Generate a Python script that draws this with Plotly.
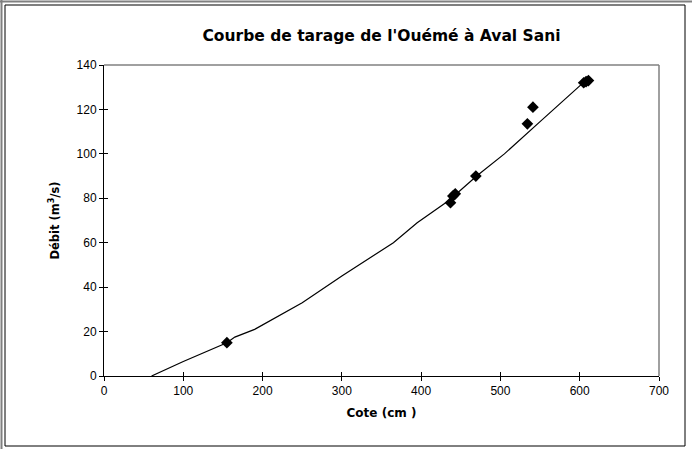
import plotly.graph_objects as go

# Jaugeages (mesures)
cote_mesures = [155, 437, 440, 443, 469, 534, 541, 605, 608, 611]
debit_mesures = [15, 78, 81, 82, 90, 113.5, 121, 132, 132.5, 133]

# Courbe de tarage ajustée
cote_courbe = [60, 100, 155, 165, 190, 250, 300, 365, 395, 435, 470, 505, 550, 606]
debit_courbe = [0, 6.5, 15, 17.5, 21, 33, 45, 60, 69, 79, 90, 100, 114.5, 132.5]

x_ticks = [0, 100, 200, 300, 400, 500, 600, 700]
y_ticks = [0, 20, 40, 60, 80, 100, 120, 140]
x_range = [0, 700]
y_range = [0, 140]

FONT = "Liberation Sans, Arial, sans-serif"
FONT_TITRE = "DejaVu Sans, Verdana, sans-serif"

fig = go.Figure()
# La courbe est portée par les axes superposés (graduations intérieures)
fig.add_trace(go.Scatter(
    x=cote_courbe, y=debit_courbe, mode="lines", xaxis="x2", yaxis="y2",
    line=dict(color="black", width=1.2), showlegend=False, hoverinfo="skip",
))
fig.add_trace(go.Scatter(
    x=cote_mesures, y=debit_mesures, mode="markers",
    marker=dict(symbol="diamond", size=9, color="black"),
    showlegend=False,
))

W, H = 692, 449
L, R, T, B = 104, 33, 65, 73

axe_commun = dict(showgrid=False, zeroline=False, tickcolor="black", ticklen=4, tickwidth=1)

fig.update_layout(
    width=W, height=H,
    margin=dict(l=L, r=R, t=T, b=B),
    paper_bgcolor="white", plot_bgcolor="white",
    font=dict(family=FONT, color="black", size=12),
    title=dict(
        text="<b>Courbe de tarage de l'Ouémé à Aval Sani</b>",
        font=dict(size=15.5, family=FONT_TITRE, color="black"),
        x=(L + (W - L - R) / 2) / W, xanchor="center",
        y=1 - 36 / H, yanchor="middle",
    ),
    xaxis=dict(
        range=x_range, tickvals=x_ticks, showline=True, linecolor="black", linewidth=1,
        ticks="outside", tickfont=dict(size=12, family=FONT),
        title=dict(text="<b>Cote (cm )</b>", font=dict(size=12, family=FONT_TITRE), standoff=11),
        **axe_commun,
    ),
    yaxis=dict(
        range=y_range, tickvals=y_ticks, showline=True, linecolor="black", linewidth=1,
        ticks="outside", tickfont=dict(size=12, family=FONT),
        title=dict(text="<b>Débit (m<sup>3</sup>/s)</b>", font=dict(size=11.5, family=FONT_TITRE), standoff=14),
        **axe_commun,
    ),
    xaxis2=dict(
        range=x_range, tickvals=x_ticks, overlaying="x", anchor="y", side="bottom",
        showline=False, ticks="inside", showticklabels=False, **axe_commun,
    ),
    yaxis2=dict(
        range=y_range, tickvals=y_ticks, overlaying="y", anchor="x", side="left",
        showline=False, ticks="inside", showticklabels=False, **axe_commun,
    ),
)

# Bordure grise haut/droite de la zone de tracé
fig.add_shape(type="line", xref="paper", yref="paper", x0=0, x1=1, y0=1, y1=1,
              line=dict(color="#808080", width=1.5), layer="below")
fig.add_shape(type="line", xref="paper", yref="paper", x0=1, x1=1, y0=0, y1=1,
              line=dict(color="#808080", width=1.5), layer="below")

# Cadre du graphique (coordonnées en pixels relatives au coin bas-gauche du tracé)
def px_rect(x0, y0, x1, y1, color, width):
    fig.add_shape(
        type="rect", xref="paper", yref="paper",
        xsizemode="pixel", ysizemode="pixel", xanchor=0, yanchor=0,
        x0=x0 - L, x1=x1 - L, y0=(H - B) - y1, y1=(H - B) - y0,
        line=dict(color=color, width=width), fillcolor="rgba(0,0,0,0)", layer="below",
    )

def px_line(x0, y0, x1, y1, color, width):
    fig.add_shape(
        type="line", xref="paper", yref="paper",
        xsizemode="pixel", ysizemode="pixel", xanchor=0, yanchor=0,
        x0=x0 - L, x1=x1 - L, y0=(H - B) - y0, y1=(H - B) - y1,
        line=dict(color=color, width=width), layer="below",
    )

px_rect(5, 5, 685, 446, "black", 1)
px_line(1.5, 0, 1.5, 449, "#808080", 2)
px_line(0, 1.5, 692, 1.5, "#808080", 2)

fig.write_html("out.html")
